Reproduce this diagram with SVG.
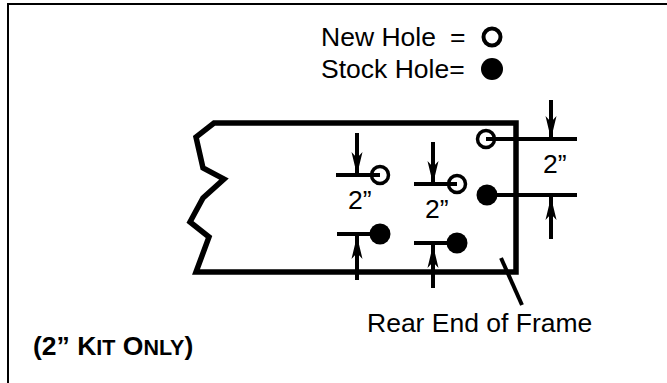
<svg xmlns="http://www.w3.org/2000/svg" width="667" height="383" viewBox="0 0 667 383">
<style>
text{font-family:"Liberation Sans",Arial,sans-serif;fill:#000;font-size:26.500px}
.thin{fill:none;stroke:#000;stroke-width:4}
.dim{fill:none;stroke:#000;stroke-width:4}
.open{fill:none;stroke:#000;stroke-width:3.500}
.solid{fill:#000}
</style>
<defs>
<path id="down" d="M0 0L5.500 -23L0 -17L-5.500 -23Z" fill="#000"/>
<path id="up" d="M0 0L5.500 23L0 17L-5.500 23Z" fill="#000"/>
</defs>
<g id="border"><path d="M8 383V4H667" fill="none" stroke="#000" stroke-width="2"/></g>
<g id="frame"><path d="M516 123H214L196 137L203 168L224 179L203 198L190 222L209 237L196 272H516Z" fill="none" stroke="#000" stroke-width="5.500"/></g>
<g id="connectors">
<path class="dim" d="M336 175H380M357 133V175M337 234H380M357 280V236M414 184H457M433 142V184M414 243H457M433 288V245M486 139H577M551 100V139M487 195H577M551 239V197"/>
<use href="#down" x="357" y="175"/><use href="#up" x="357" y="236"/>
<use href="#down" x="433" y="184"/><use href="#up" x="433" y="245"/>
<use href="#down" x="551" y="139"/><use href="#up" x="551" y="197"/>
<path class="thin" d="M501 258L522 305"/>
</g>
<g id="hole-1"><circle class="open" cx="380" cy="175" r="8.500"/></g>
<g id="hole-2"><circle class="solid" cx="380" cy="234" r="10.500"/></g>
<g id="hole-3"><circle class="open" cx="457" cy="184" r="8.500"/></g>
<g id="hole-4"><circle class="solid" cx="457" cy="243" r="10.500"/></g>
<g id="hole-5"><circle class="open" cx="486" cy="139" r="8.500"/></g>
<g id="hole-6"><circle class="solid" cx="487" cy="195" r="10.500"/></g>
<g id="legend">
<text x="321" y="46">New Hole<tspan x="450">=</tspan></text>
<circle cx="492" cy="37" r="8.500" fill="none" stroke="#000" stroke-width="4"/>
<text x="321" y="78">Stock Hole=</text>
<circle cx="492" cy="69" r="11" fill="#000"/>
</g>
<g id="labels">
<text x="348" y="209">2”</text>
<text x="425" y="218">2”</text>
<text x="543" y="173">2”</text>
<text x="367" y="332">Rear End of Frame</text>
<text x="33" y="355" font-weight="bold">(2” K<tspan style="font-size:21.500px">IT</tspan> O<tspan style="font-size:21.500px">NLY</tspan>)</text>
</g>
</svg>
